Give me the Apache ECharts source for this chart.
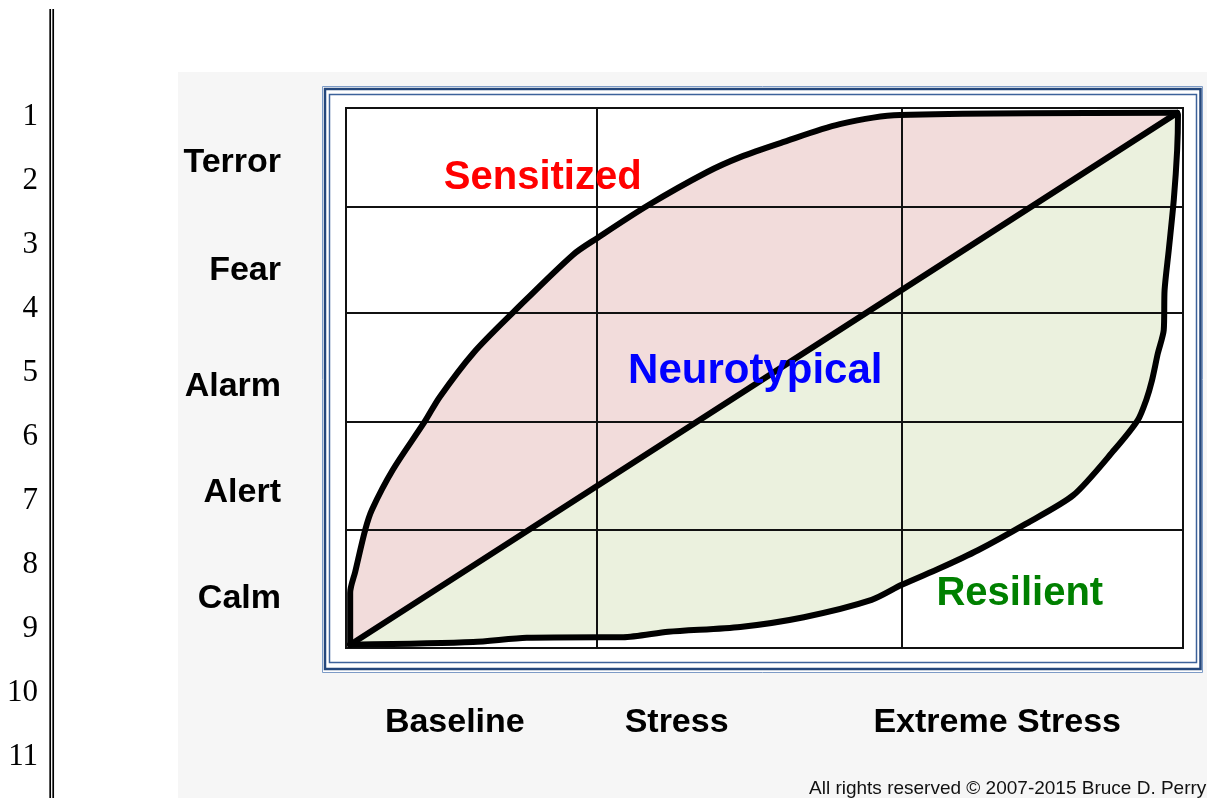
<!DOCTYPE html>
<html>
<head>
<meta charset="utf-8">
<title>Stress response continuum</title>
<script src="https://cdn.jsdelivr.net/npm/echarts@6/dist/echarts.min.js"></script>
<style>
  html, body { margin: 0; padding: 0; background: #fff; }
  #chart { width: 1207px; height: 798px; }
</style>
</head>
<body>
<div id="chart"></div>
<script>
// arousal states (bottom to top) and where their labels sit on the 0-100 scale
var levelNames = ['Calm', 'Alert', 'Alarm', 'Fear', 'Terror'];
var levelTicks = [9.1, 28.8, 48.4, 69.9, 89.9];

// stress stages along the bottom
var stageNames = ['Baseline', 'Stress', 'Extreme Stress'];
var stageTicks = [13.0, 39.5, 77.8];

// grid dividers
var colLines = [29.9, 66.4];
var rowLines = [21.9, 41.9, 62.0, 81.7];

// sensitized response (upper curve)
var sensX = [0.5, 0.5, 1.1, 2.3, 3.1, 5.6, 9.4, 11.2, 15.2, 20.0, 27.1, 30.0, 36.0, 43.1, 47.1, 51.9, 59.0, 66.2, 99.3];
var sensY = [0.6, 10.2, 14.1, 21.9, 25.6, 33.0, 41.9, 46.5, 54.6, 62.2, 72.8, 75.9, 81.9, 88.1, 90.9, 93.5, 97.0, 98.7, 99.1];

// neurotypical response (straight diagonal)
var typX = [0.5, 99.3];
var typY = [0.6, 99.1];

// resilient response (lower curve)
var resX = [0.5, 15.2, 21.6, 30.3, 33.1, 38.5, 47.1, 54.7, 62.8, 66.4, 71.0, 75.5, 81.0, 86.9, 91.8, 94.6, 95.6, 96.3, 97.0, 97.7, 97.8, 98.3, 98.9, 99.3, 99.4, 99.3];
var resY = [0.6, 1.1, 1.9, 2.0, 2.0, 3.0, 3.9, 5.7, 8.9, 11.7, 14.8, 18.1, 22.8, 28.3, 36.7, 42.2, 45.9, 49.6, 54.6, 58.9, 66.3, 73.7, 83.0, 92.2, 98.7, 99.1];

var regionNames = ['Sensitized', 'Neurotypical', 'Resilient'];
var regionX = [23.5, 48.9, 80.5];
var regionY = [87.1, 51.3, 10.0];
var regionSizes = [40, 42, 40];
var regionColors = ['#ff0000', '#0000ff', '#008000'];

var lineNumbers = ['1', '2', '3', '4', '5', '6', '7', '8', '9', '10', '11'];

var sans = "'Liberation Sans', Arial, sans-serif";
var serif = "'Liberation Serif', 'Times New Roman', serif";

function pairs(xs, ys) {
  return xs.map(function (x, i) { return [x, ys[i]]; });
}

function areaSeries(xs, ys, fill) {
  return {
    type: 'custom',
    silent: true,
    z: 1,
    data: [[xs[0], ys[0]]],
    renderItem: function (params, api) {
      var pts = xs.map(function (x, i) { return api.coord([x, ys[i]]); });
      return { type: 'polygon', shape: { points: pts, smooth: 0 }, style: { fill: fill } };
    }
  };
}

function curveSeries(name, xs, ys, smooth) {
  return {
    name: name,
    type: 'line',
    data: pairs(xs, ys),
    symbol: 'none',
    smooth: smooth,
    silent: true,
    z: 5,
    lineStyle: { color: '#000', width: 6, cap: 'round', join: 'round' }
  };
}

var chart = echarts.init(document.getElementById('chart'));

var graphics = [
  { type: 'rect', z: -20, shape: { x: 178, y: 72, width: 1040, height: 740 }, style: { fill: '#f6f6f6' } },
  { type: 'rect', z: -19, shape: { x: 322.5, y: 86.5, width: 880, height: 586 }, style: { fill: '#fff', stroke: '#7d9bc6', lineWidth: 1 } },
  { type: 'rect', z: -18, shape: { x: 325, y: 89, width: 875.5, height: 580 }, style: { fill: 'none', stroke: '#24477c', lineWidth: 2.5 } },
  { type: 'rect', z: -18, shape: { x: 329.5, y: 94.5, width: 867, height: 568 }, style: { fill: 'none', stroke: '#3c629a', lineWidth: 1.5 } },
  { type: 'line', z: -18, shape: { x1: 50.2, y1: 9, x2: 50.2, y2: 800 }, style: { stroke: '#000', lineWidth: 1.7 } },
  { type: 'line', z: -18, shape: { x1: 53.2, y1: 9, x2: 53.2, y2: 800 }, style: { stroke: '#000', lineWidth: 1.7 } },
  {
    type: 'text', z: -18, x: 809, y: 789,
    style: { text: 'All rights reserved \u00a9 2007-2015 Bruce D. Perry', font: '19px ' + sans, fill: '#111', verticalAlign: 'middle' }
  }
];
lineNumbers.forEach(function (n, i) {
  graphics.push({
    type: 'text', z: -18, x: 38, y: 117 + i * 64,
    style: { text: n, font: '31px ' + serif, fill: '#000', align: 'right', verticalAlign: 'middle' }
  });
});

var option = {
  animation: false,
  graphic: graphics,
  grid: {
    left: 346, top: 108, width: 837, height: 540,
    show: true, borderColor: '#111', borderWidth: 2, backgroundColor: 'transparent'
  },
  xAxis: {
    type: 'value', min: 0, max: 100,
    axisLine: { show: false }, axisTick: { show: false }, splitLine: { show: false },
    axisLabel: {
      customValues: stageTicks,
      formatter: function (v) { return stageNames[stageTicks.indexOf(v)]; },
      margin: 75, verticalAlign: 'middle',
      color: '#000', fontFamily: sans, fontWeight: 'bold', fontSize: 34
    }
  },
  yAxis: {
    type: 'value', min: 0, max: 100,
    axisLine: { show: false }, axisTick: { show: false }, splitLine: { show: false },
    axisLabel: {
      customValues: levelTicks,
      formatter: function (v) { return levelNames[levelTicks.indexOf(v)]; },
      margin: 65,
      color: '#000', fontFamily: sans, fontWeight: 'bold', fontSize: 34
    }
  },
  series: [
    areaSeries(sensX, sensY, '#f2dcdb'),
    areaSeries(resX, resY, '#ebf1de'),
    {
      type: 'line', data: [], silent: true, z: 3,
      markLine: {
        silent: true, symbol: 'none', animation: false,
        label: { show: false },
        lineStyle: { color: '#111', width: 2, type: 'solid' },
        data: colLines.map(function (v) { return { xAxis: v }; })
          .concat(rowLines.map(function (v) { return { yAxis: v }; }))
      }
    },
    curveSeries('Sensitized', sensX, sensY, 0.3),
    curveSeries('Neurotypical', typX, typY, false),
    curveSeries('Resilient', resX, resY, 0.25),
    {
      type: 'scatter', silent: true, z: 6,
      symbolSize: 1, itemStyle: { color: 'rgba(0,0,0,0)', opacity: 1 },
      data: regionNames.map(function (n, i) {
        return {
          name: n, value: [regionX[i], regionY[i]],
          label: { color: regionColors[i], fontSize: regionSizes[i], opacity: 1 }
        };
      }),
      label: {
        show: true, position: 'inside', formatter: '{b}',
        fontFamily: sans, fontWeight: 'bold', fontSize: 40
      }
    }
  ]
};

chart.setOption(option);
</script>
</body>
</html>
